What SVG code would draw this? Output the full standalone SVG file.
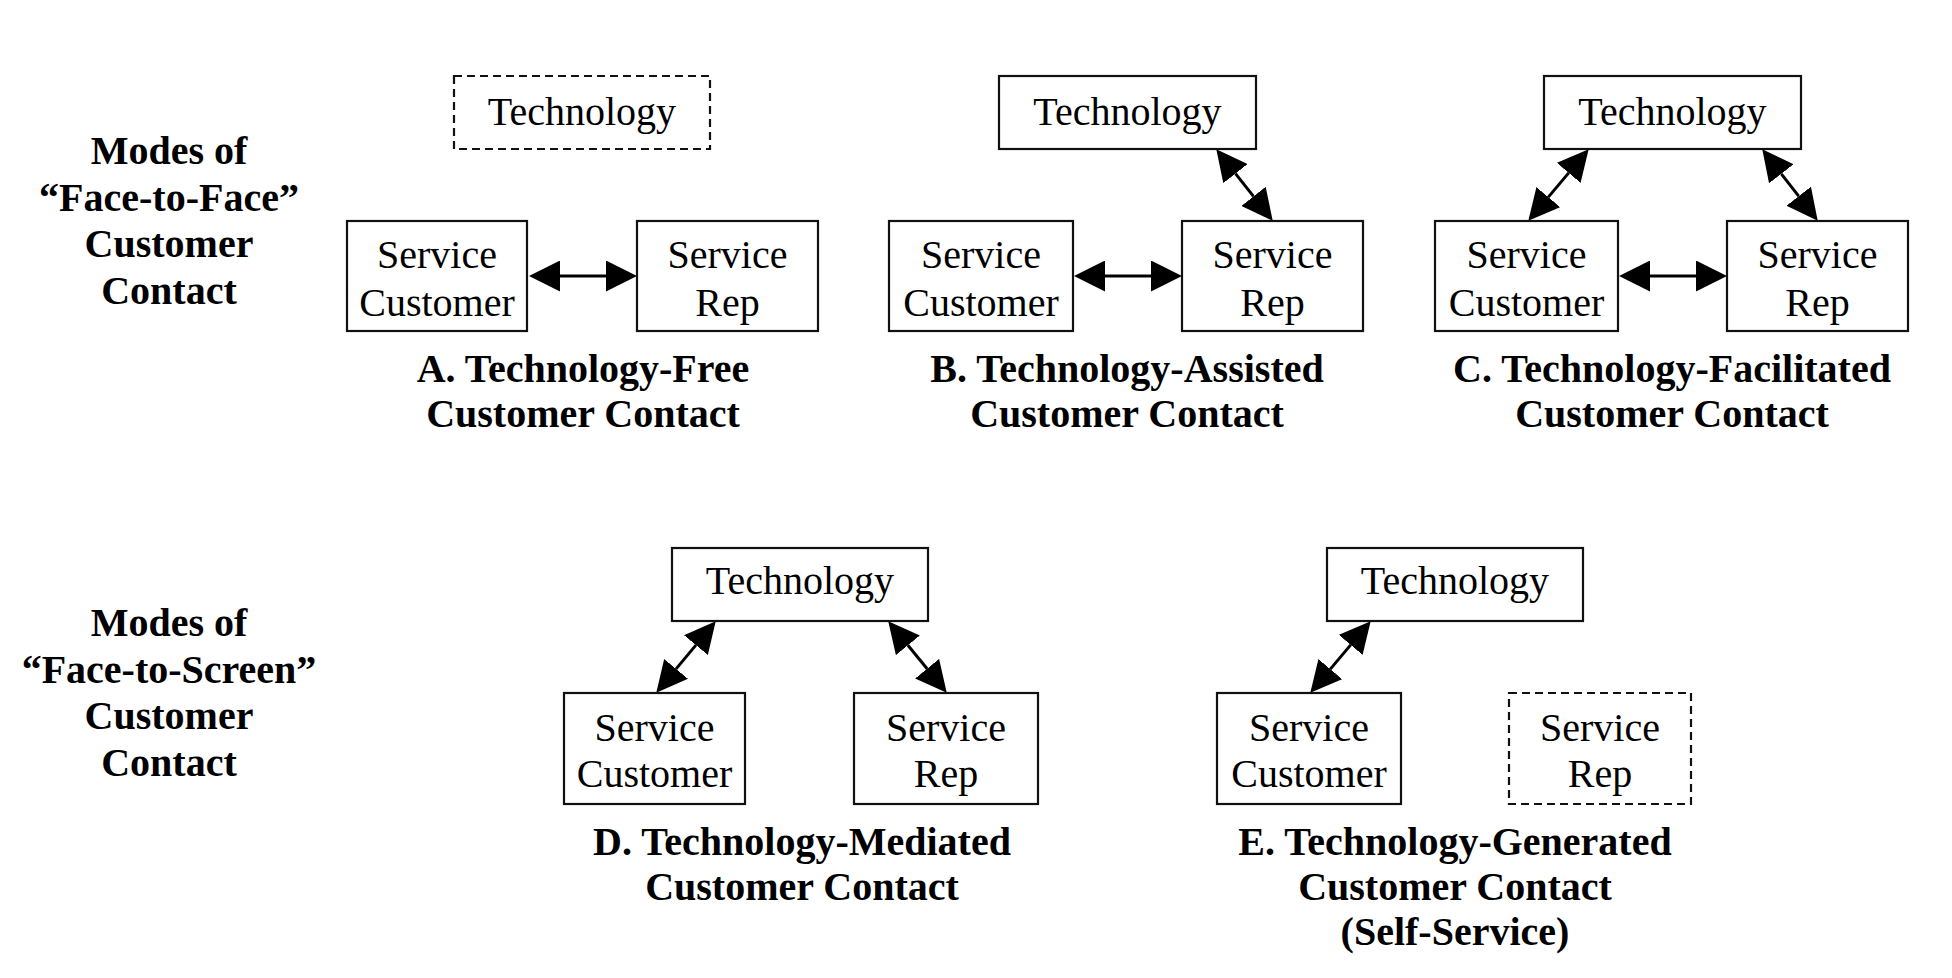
<svg xmlns="http://www.w3.org/2000/svg" width="1952" height="978" viewBox="0 0 1952 978">
<defs>
<style>
.box{fill:#fff;stroke:#111;stroke-width:2.2}
.dash{fill:#fff;stroke:#111;stroke-width:2.2;stroke-dasharray:8 5}
.t{font-family:"Liberation Serif","Times New Roman",serif;font-size:40px;fill:#000;text-anchor:middle}
.b{font-family:"Liberation Serif","Times New Roman",serif;font-size:40px;font-weight:bold;fill:#000;text-anchor:middle}
.conn line{stroke:#000;stroke-width:3;marker-start:url(#ah);marker-end:url(#ah)}
</style>
<marker id="ah" markerUnits="userSpaceOnUse" markerWidth="31" markerHeight="31" viewBox="0 0 31 31" refX="0" refY="15.5" orient="auto-start-reverse">
<path d="M0,0 L31,15.5 L0,31 Z" fill="#000"/>
</marker>
</defs>
<rect width="1952" height="978" fill="#fff"/>

<g id="label-face-to-face">
<text class="b" x="169" y="164">Modes of</text>
<text class="b" x="169" y="210.5">“Face-to-Face”</text>
<text class="b" x="169" y="257">Customer</text>
<text class="b" x="169" y="303.5">Contact</text>
</g>
<g id="label-face-to-screen">
<text class="b" x="169" y="636">Modes of</text>
<text class="b" x="169" y="682.5">“Face-to-Screen”</text>
<text class="b" x="169" y="729">Customer</text>
<text class="b" x="169" y="775.5">Contact</text>
</g>

<!-- A -->
<g id="A-tech"><rect class="dash" x="454" y="76" width="256" height="73"/><text class="t" x="582" y="125">Technology</text></g>
<g id="A-cust"><rect class="box" x="347" y="221" width="180" height="110"/><text class="t" x="437" y="268">Service</text><text class="t" x="437" y="316">Customer</text></g>
<g id="A-rep"><rect class="box" x="637" y="221" width="181" height="110"/><text class="t" x="727.5" y="268">Service</text><text class="t" x="727.5" y="316">Rep</text></g>
<g id="A-caption"><text class="b" x="583" y="382">A. Technology-Free</text><text class="b" x="583" y="427">Customer Contact</text></g>

<!-- B -->
<g id="B-tech"><rect class="box" x="999" y="76" width="257" height="73"/><text class="t" x="1127.5" y="125">Technology</text></g>
<g id="B-cust"><rect class="box" x="889" y="221" width="184" height="110"/><text class="t" x="981" y="268">Service</text><text class="t" x="981" y="316">Customer</text></g>
<g id="B-rep"><rect class="box" x="1182" y="221" width="181" height="110"/><text class="t" x="1272.5" y="268">Service</text><text class="t" x="1272.5" y="316">Rep</text></g>
<g id="B-caption"><text class="b" x="1127" y="382">B. Technology-Assisted</text><text class="b" x="1127" y="427">Customer Contact</text></g>

<!-- C -->
<g id="C-tech"><rect class="box" x="1544" y="76" width="257" height="73"/><text class="t" x="1672.5" y="125">Technology</text></g>
<g id="C-cust"><rect class="box" x="1435" y="221" width="183" height="110"/><text class="t" x="1526.5" y="268">Service</text><text class="t" x="1526.5" y="316">Customer</text></g>
<g id="C-rep"><rect class="box" x="1727" y="221" width="181" height="110"/><text class="t" x="1817.5" y="268">Service</text><text class="t" x="1817.5" y="316">Rep</text></g>
<g id="C-caption"><text class="b" x="1672" y="382">C. Technology-Facilitated</text><text class="b" x="1672" y="427">Customer Contact</text></g>

<!-- D -->
<g id="D-tech"><rect class="box" x="672" y="548" width="256" height="73"/><text class="t" x="800" y="594">Technology</text></g>
<g id="D-cust"><rect class="box" x="564" y="693" width="181" height="111"/><text class="t" x="654.5" y="741">Service</text><text class="t" x="654.5" y="787">Customer</text></g>
<g id="D-rep"><rect class="box" x="854" y="693" width="184" height="111"/><text class="t" x="946" y="741">Service</text><text class="t" x="946" y="787">Rep</text></g>
<g id="D-caption"><text class="b" x="802" y="855">D. Technology-Mediated</text><text class="b" x="802" y="900">Customer Contact</text></g>

<!-- E -->
<g id="E-tech"><rect class="box" x="1327" y="548" width="256" height="73"/><text class="t" x="1455" y="594">Technology</text></g>
<g id="E-cust"><rect class="box" x="1217" y="693" width="184" height="111"/><text class="t" x="1309" y="741">Service</text><text class="t" x="1309" y="787">Customer</text></g>
<g id="E-rep"><rect class="dash" x="1509" y="693" width="182" height="111"/><text class="t" x="1600" y="741">Service</text><text class="t" x="1600" y="787">Rep</text></g>
<g id="E-caption"><text class="b" x="1455" y="855">E. Technology-Generated</text><text class="b" x="1455" y="900">Customer Contact</text><text class="b" x="1455" y="945">(Self-Service)</text></g>

<g id="connectors" class="conn">
<line x1="560" y1="276" x2="606" y2="276"/>
<line x1="1105" y1="276" x2="1151" y2="276"/>
<line x1="1235.5" y1="173.6" x2="1253.5" y2="196.4"/>
<line x1="1650" y1="276" x2="1696" y2="276"/>
<line x1="1568.7" y1="172.9" x2="1548.3" y2="197.1"/>
<line x1="1781.3" y1="173.8" x2="1798.7" y2="196.2"/>
<line x1="695.9" y1="645.1" x2="676.1" y2="668.9"/>
<line x1="907.9" y1="645.3" x2="927.1" y2="668.7"/>
<line x1="1350.7" y1="644.9" x2="1330.3" y2="669.1"/>
</g>
</svg>
